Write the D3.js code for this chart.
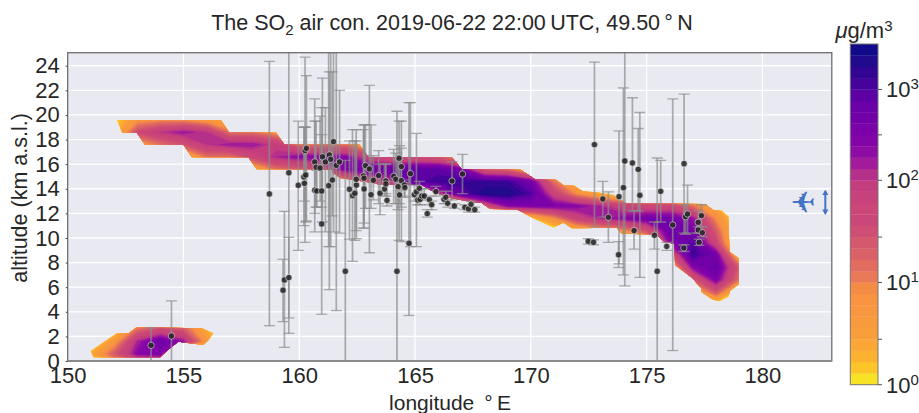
<!DOCTYPE html>
<html><head><meta charset="utf-8">
<script src="https://cdn.jsdelivr.net/npm/d3@7"></script>
<style>html,body{margin:0;padding:0;background:#fff}svg{display:block}text{font-family:"Liberation Sans",Arial,sans-serif;fill:#262626}</style>
</head><body><svg id="c" width="919" height="413"></svg>
<script>
const xTicks=[150,155,160,165,170,175,180];
const yTicks=[0,2,4,6,8,10,12,14,16,18,20,22,24];
const cbTicks=[1,10,100,1000];
const cbMinor=[3,30,300];
const levels=[1,1.3,1.6,2,3,4,5,6,8,10,13,16,20,30,40,50,60,80,100,130,160,200,300,400,500,700,1000,1300,1600,2000,3000];
const bandColors=["#f7e225","#fdc527","#fdb130","#fca636","#fa9e3b","#f99a3d","#f8973f","#f89441","#f58c46","#e97958","#e26c5f","#da6167","#d4596c","#cf4f74","#cb4679","#cc4778","#c7427c","#c43e7f","#b5308b","#a11b9b","#8e0ca4","#8405a7","#7a02a8","#7200a8","#6a00a8","#5d01a5","#45039b","#320593","#220a8c","#110a8a"];

const gridLons=[151,152,153,154,155,156,157,158,159,160,161,162,163,164,165,166,167,168,169,170,171,172,173,174,175,176,177,178,179];
const gridAlts=[-.4,.6,1.6,2.6,3.6,4.6,5.6,6.6,7.6,8.6,9.6,10.6,11.6,12.6,13.6,14.6,15.6,16.6,17.6,18.6,19.6];
const gridRows=[
[.5,5,13,13,.5,.5,.5,.5,.5,.5,.5,.5,.5,.5,.5,.5,.5,.5,.5,.5,.5,.5,.5,.5,.5,.5,.5,.5,.5],
[2,20,200,300,.5,.5,.5,.5,.5,.5,.5,.5,.5,.5,.5,.5,.5,.5,.5,.5,.5,.5,.5,.5,.5,.5,.5,.5,.5],
[.5,5,130,500,160,5,.5,.5,.5,.5,.5,.5,.5,.5,.5,.5,.5,.5,.5,.5,.5,.5,.5,.5,.5,.5,.5,.5,.5],
[.5,.5,13,40,20,2,.5,.5,.5,.5,.5,.5,.5,.5,.5,.5,.5,.5,.5,.5,.5,.5,.5,.5,.5,.5,.5,.5,.5],
[.5,.5,.5,.5,.5,.5,.5,.5,.5,.5,.5,.5,.5,.5,.5,.5,.5,.5,.5,.5,.5,.5,.5,.5,.5,.5,.5,.5,.5],
[.5,.5,.5,.5,.5,.5,.5,.5,.5,.5,.5,.5,.5,.5,.5,.5,.5,.5,.5,.5,.5,.5,.5,.5,.5,.5,.5,1,.5],
[.5,.5,.5,.5,.5,.5,.5,.5,.5,.5,.5,.5,.5,.5,.5,.5,.5,.5,.5,.5,.5,.5,.5,.5,.5,.5,2,30,.8],
[.5,.5,.5,.5,.5,.5,.5,.5,.5,.5,.5,.5,.5,.5,.5,.5,.5,.5,.5,.5,.5,.5,.5,.5,.5,.5,20,300,13],
[.5,.5,.5,.5,.5,.5,.5,.5,.5,.5,.5,.5,.5,.5,.5,.5,.5,.5,.5,.5,.5,.5,.5,.5,.5,2,200,700,20],
[.5,.5,.5,.5,.5,.5,.5,.5,.5,.5,.5,.5,.5,.5,.5,.5,.5,.5,.5,.5,.5,.5,.5,.5,.5,20,1300,400,2],
[.5,.5,.5,.5,.5,.5,.5,.5,.5,.5,.5,.5,.5,.5,.5,.5,.5,.5,.5,.5,.5,.5,.5,.5,1.3,200,1000,50,.5],
[.5,.5,.5,.5,.5,.5,.5,.5,.5,.5,.5,.5,.5,.5,.5,.5,.5,.5,.5,.5,.5,2,5,8,30,500,400,20,.5],
[.5,.5,.5,.5,.5,.5,.5,.5,.5,.5,.5,.5,.5,.5,.5,.5,.5,.5,.5,1.5,8,60,130,200,400,400,160,8,.5],
[.5,.5,.5,.5,.5,.5,.5,.5,.5,.5,.5,.5,.5,.5,.5,.5,3,30,200,300,300,200,130,60,50,50,13,2,.5],
[.5,.5,.5,.5,.5,.5,.5,.5,.5,.5,.5,.5,.5,3,13,80,700,2000,2000,1000,60,8,2,.5,.5,.5,.5,.5,.5],
[.5,.5,.5,.5,.5,.5,.5,.5,.5,.5,.5,8,50,100,700,1300,1300,1300,1300,400,13,1.3,.5,.5,.5,.5,.5,.5,.5],
[.5,.5,.5,.5,.5,.5,.5,3,13,20,50,300,400,500,700,700,300,20,13,2,.5,.5,.5,.5,.5,.5,.5,.5,.5],
[.5,.5,.5,.5,2,13,13,50,130,200,200,200,60,30,30,20,5,.5,.5,.5,.5,.5,.5,.5,.5,.5,.5,.5,.5],
[.5,.5,5,13,30,100,160,160,80,13,13,13,3,.5,.5,.5,.5,.5,.5,.5,.5,.5,.5,.5,.5,.5,.5,.5,.5],
[.5,1.3,40,100,160,100,13,13,6,.5,.5,.5,.5,.5,.5,.5,.5,.5,.5,.5,.5,.5,.5,.5,.5,.5,.5,.5,.5],
[.5,1,6,8,8,5,2,.5,.5,.5,.5,.5,.5,.5,.5,.5,.5,.5,.5,.5,.5,.5,.5,.5,.5,.5,.5,.5,.5]
];

const mainOutlineLon=[152.12,156.62,156.97,159.0,159.36,162.6,162.99,166.59,167.02,169.54,170.19,171.05,171.41,171.87,172.27,172.85,173.57,174.12,177.53,177.89,178.25,178.54,178.58,178.98,178.98,178.61,178.54,178.15,177.82,177.39,177.36,176.98,176.23,176.2,175.8,175.44,174.43,173.93,173.71,171.77,171.41,170.98,170.11,169.39,168.24,167.88,167.38,166.51,165.78,165.29,163.49,163.19,161.76,161.46,161.4,158.16,157.8,155.36,155,153.34,152.98,152.36];
const mainOutlineAlt=[19.59,19.59,18.59,18.56,17.59,17.59,16.59,16.59,15.58,15.58,14.77,14.77,14.31,14.25,13.77,13.71,13.5,12.82,12.76,12.28,12.22,11.73,8.89,8.35,6.23,5.72,5.23,4.85,5.01,5.58,5.9,6.72,7.8,9.57,9.62,10.27,10.33,10.33,10.84,10.79,11.25,10.84,11.6,12.33,12.36,12.85,12.95,13.24,13.76,14.3,14.3,14.47,14.88,15.28,15.58,15.58,16.56,16.56,17.56,17.56,18.56,18.56];
const lowOutlineLon=[151.0,151.11,153.99,154.42,154.78,155.86,156.08,156.29,155.79,152.98,152.62,152.12];
const lowOutlineAlt=[.81,.3,.3,1.03,1.57,1.3,1.71,2.25,2.66,2.74,2.25,2.25];

const pLon=[153.6,154.48,158.71,159.3,159.36,159.55,159.55,159.96,160.2,160.25,160.31,160.28,160.22,160.67,160.67,160.73,160.76,160.9,161.0,160.97,160.97,161.13,161.27,161.3,161.36,161.43,161.48,161.6,161.74,161.99,162.17,162.3,162.4,162.47,162.46,162.77,162.8,162.8,162.86,163.03,163.1,163.2,163.43,163.49,163.68,163.74,163.74,163.79,164.08,164.17,164.22,164.27,164.31,164.33,164.41,164.41,164.54,164.56,164.74,164.8,164.97,165.06,165.19,165.12,165.22,165.29,165.4,165.62,165.72,165.53,165.9,166.25,166.33,166.41,166.6,166.7,167.05,167.15,167.31,167.42,167.58,172.48,172.71,172.75,173.11,173.35,173.79,173.81,174.0,174.06,174.39,174.46,174.64,174.71,175.34,175.46,175.61,175.87,176.13,176.62,176.61,176.68,176.77,177.23,177.23,177.27,177.37,177.41];
const pAlt=[1.27,2.03,13.58,5.75,6.59,6.78,15.3,14.28,14.96,17.1,17.29,15.12,14.44,16.18,13.88,15.75,13.82,15.69,16.6,13.82,11.14,16.18,14.25,16.75,16.4,14.71,17.83,15.9,16.18,7.29,13.96,13.44,13.63,14.3,14.77,15.04,14.85,13.98,15.88,15.61,13.52,14.69,15.07,13.63,13.98,14.63,14.39,13.06,15.01,14.77,7.29,14.17,16.48,13.5,15.8,14.66,14.31,14.09,9.57,15.23,13.52,13.75,14.04,13.09,13.14,13.41,13.41,13.12,12.71,11.98,13.77,13.14,13.31,12.82,14.63,12.6,15.2,12.49,12.36,12.74,12.3,9.73,9.65,17.59,13.17,11.68,8.64,13.36,14.09,16.26,16.1,10.6,15.58,13.47,10.22,7.29,13.79,9.32,11.06,16.04,9.19,11.73,11.95,11.27,10.65,9.65,11.82,10.43];
const pHi=[2.7,4.88,24.36,8.27,12.17,10.05,30,19.49,19,24.7,23.2,19,19,21.3,19.5,19.5,15.5,19.9,23,20.6,18.4,20.6,28,23.5,26,23.5,28,27,22,16.3,17.9,18.8,17.9,17.9,18.8,18.8,19.2,19.2,19.2,22.4,19.2,16.7,17.1,16,16,16,16,14.6,17.2,16.9,20.3,16.4,19.5,17.5,19.5,17.3,14.7,14.5,21,21,14.3,18.5,14.6,13.5,13.5,14,14,13.4,13,12.3,14.2,13.5,13.8,13.1,16.2,12.8,16.8,12.7,12.6,13,12.5,9.95,9.85,24.3,14.6,13.75,9.7,18.7,22.2,30,21.4,12.2,18.9,20.2,11.3,16.5,16.3,9.65,21.3,21.7,9.45,12.7,14.3,12.2,10.9,9.9,12.7,10.9];
const pLo=[-1,-1,2.87,3.2,1.11,2.25,3.5,9,11,9.65,11.38,11.3,13,10.5,12,12.5,12.5,13,11.3,12.5,3.8,10.5,9.3,5.8,9.3,11.8,10.5,4.1,10.4,-1,9.9,8.1,9.8,9.95,10.6,10.8,11.2,10.8,12.4,8.8,12.4,13.1,12.8,11.9,13.4,13.4,13.6,12.6,12.8,12.8,-1,12.3,9.8,12.8,9.7,12.5,13.4,13.3,3.7,9.3,13,9.3,13.5,12.7,12.7,13.1,13.1,12.7,12.3,11.7,13.4,12.8,12.8,12.5,13.1,12.4,13.6,12.3,12.1,12.5,12.1,9.5,9.45,10.9,11.7,9.65,7.6,7.9,7,6.1,12.2,9.1,12.2,6.8,9.1,-1,11.3,9,.85,10.4,8.9,10.3,10.4,10.4,10.4,9.4,10.9,10.1];

const flightLon=181.75;const flightAlt=12.9;const rangeLon=182.72;const rangeAlt=[12,13.8];

const W=919,H=413,L=67.7,R=831.8,T=52.7,B=361;
const x=d3.scaleLinear().domain([150,183]).range([L,R]);
const y=d3.scaleLinear().domain([0,25.06]).range([B,T]);
const svg=d3.select("#c");
const defs=svg.append("defs");
defs.append("clipPath").attr("id","plot").append("rect").attr("x",L).attr("y",T).attr("width",R-L).attr("height",B-T);
const outlineLine=d3.line().x(d=>x(d[0])).y(d=>y(d[1]));
const cp=defs.append("clipPath").attr("id","plume");
cp.append("path").attr("d",outlineLine(d3.zip(mainOutlineLon,mainOutlineAlt))+"Z");
cp.append("path").attr("d",outlineLine(d3.zip(lowOutlineLon,lowOutlineAlt))+"Z");

svg.append("rect").attr("x",L).attr("y",T).attr("width",R-L).attr("height",B-T).attr("fill","#e8e9f1");
const grid=svg.append("g").attr("stroke","#fff").attr("stroke-width",1.3);
grid.selectAll(".v").data(xTicks).join("line").attr("x1",x).attr("x2",x).attr("y1",T).attr("y2",B);
grid.selectAll(".h").data(yTicks).join("line").attr("y1",y).attr("y2",y).attr("x1",L).attr("x2",R);

const idx=d3.scaleLinear().domain(levels).range(levels.map((d,i)=>i));
const nx=gridLons.length,ny=gridAlts.length;
const flat=gridRows.flat().map(v=>idx(v));
const lonOf=d3.scaleLinear().domain([.5,nx-.5]).range([gridLons[0],gridLons[nx-1]]);
const altOf=d3.scaleLinear().domain([.5,ny-.5]).range([gridAlts[0],gridAlts[ny-1]]);
const contours=d3.contours().size([nx,ny]).thresholds(bandColors.map((c,i)=>i))(flat);
const proj=d3.geoTransform({point(a,b){this.stream.point(x(lonOf(a)),y(altOf(b)));}});
const path=d3.geoPath(proj);
svg.append("g").attr("clip-path","url(#plume)").selectAll("path").data(contours).join("path")
  .attr("d",path).attr("fill",(d,i)=>bandColors[i]).attr("stroke",(d,i)=>bandColors[i]).attr("stroke-width",.3);

const pts=d3.range(pLon.length).map(i=>({lon:pLon[i],alt:pAlt[i],hi:pHi[i],lo:pLo[i]}));
const eb=svg.append("g").attr("clip-path","url(#plot)").attr("stroke","#8c8c8c").attr("stroke-opacity",.7).attr("stroke-width",1.7).attr("fill","none");
eb.selectAll(".s").data(pts).join("line").attr("x1",d=>x(d.lon)).attr("x2",d=>x(d.lon)).attr("y1",d=>y(d.hi)).attr("y2",d=>y(d.lo));
eb.selectAll(".t").data(pts).join("line").attr("stroke-width",1.3).attr("x1",d=>x(d.lon)-5.5).attr("x2",d=>x(d.lon)+5.5).attr("y1",d=>y(d.hi)).attr("y2",d=>y(d.hi));
eb.selectAll(".b").data(pts).join("line").attr("stroke-width",1.3).attr("x1",d=>x(d.lon)-5.5).attr("x2",d=>x(d.lon)+5.5).attr("y1",d=>y(d.lo)).attr("y2",d=>y(d.lo));
svg.append("g").selectAll("circle").data(pts).join("circle").attr("cx",d=>x(d.lon)).attr("cy",d=>y(d.alt)).attr("r",3.2)
  .attr("fill","#222").attr("fill-opacity",.85).attr("stroke","#fff").attr("stroke-opacity",.5).attr("stroke-width",1);

svg.append("rect").attr("x",L).attr("y",T).attr("width",R-L).attr("height",B-T).attr("fill","none").attr("stroke","#6e6e6e").attr("stroke-width",1.3);
svg.append("line").attr("x1",L).attr("x2",R).attr("y1",B).attr("y2",B).attr("stroke","#8a8a8a").attr("stroke-width",2);

const fs=22;
const ax=svg.append("g").attr("transform",`translate(0,${B})`).call(d3.axisBottom(x).tickValues(xTicks).tickFormat(d3.format("d")).tickSize(0).tickPadding(5));
ax.select(".domain").remove();ax.selectAll("text").style("font-size",fs+"px").attr("dy","0.78em");
const ay=svg.append("g").attr("transform",`translate(${L},0)`).call(d3.axisLeft(y).tickValues(yTicks).tickFormat(d3.format("d")).tickSize(2).tickPadding(6));
ay.select(".domain").remove();ay.selectAll("line").attr("stroke","#444");ay.selectAll("text").style("font-size",fs+"px");

svg.append("text").attr("transform","translate(27,198) rotate(-90)").attr("text-anchor","middle").style("font-size","21.5px").text("altitude (km a.s.l.)");
const xl=svg.append("text").attr("x",450).attr("y",410).attr("text-anchor","middle").style("font-size","21px");
xl.text("longitude \u2009\u00b0\u2009E");
const t=svg.append("text").attr("x",452).attr("y",30).attr("text-anchor","middle").style("font-size","21.5px").attr("fill","#333");
t.append("tspan").text("The SO");
t.append("tspan").attr("dy",5).style("font-size","15px").text("2");
t.append("tspan").attr("dy",-5).text(" air con. 2019-06-22 22:00\u2009UTC, 49.50\u2009\u00b0\u2009N");

const planeColor="#4472c4";
svg.append("text").attr("transform",`translate(${x(flightLon)},${y(flightAlt)}) rotate(180)`).attr("text-anchor","middle").attr("dy","0.36em")
  .style("font-family","DejaVu Sans").style("font-size","30px").style("fill",planeColor).text("\u2708");
const rg=svg.append("g").attr("stroke",planeColor).attr("fill",planeColor);
rg.append("line").attr("x1",x(rangeLon)).attr("x2",x(rangeLon)).attr("y1",y(rangeAlt[0])).attr("y2",y(rangeAlt[1])).attr("stroke-width",2);
rangeAlt.forEach((a,i)=>rg.append("path").attr("d",d3.symbol(d3.symbolTriangle,16)()).attr("stroke","none")
  .attr("transform",`translate(${x(rangeLon)},${y(a)+(i?2:-2)}) rotate(${i?0:180})`));

const cbL=850.3,cbR=878,cbT=44,cbB=384.7;
const cb=d3.scaleLinear().domain(levels).range(levels.map((d,i)=>cbB+(cbT-cbB)*i/30));
svg.append("g").selectAll("rect").data(bandColors).join("rect").attr("x",cbL).attr("width",cbR-cbL)
  .attr("y",(d,i)=>cb(levels[i+1])).attr("height",(d,i)=>cb(levels[i])-cb(levels[i+1])+.3).attr("fill",d=>d);
svg.append("rect").attr("x",cbL).attr("y",cbT).attr("width",cbR-cbL).attr("height",cbB-cbT).attr("fill","none").attr("stroke","#777").attr("stroke-width",1);
const ct=svg.append("g").attr("stroke","#555").attr("stroke-width",1);
ct.selectAll("line").data(cbTicks.concat(cbMinor)).join("line").attr("x1",cbR).attr("x2",cbR+4).attr("y1",cb).attr("y2",cb);
cbTicks.forEach((v,i)=>{
  const tx=svg.append("text").attr("x",886).attr("y",cb(v)+8).style("font-size",fs+"px");
  tx.append("tspan").text("10");
  tx.append("tspan").attr("dy",-8).style("font-size","15px").text(d3.format("d")(i));
});
const u=svg.append("text").attr("x",864).attr("y",38).attr("text-anchor","middle").style("font-size","22px");
u.append("tspan").style("font-style","italic").text("\u03bc");
u.append("tspan").text("g/m");
u.append("tspan").attr("dy",-7).style("font-size","15px").text("3");
</script></body></html>
